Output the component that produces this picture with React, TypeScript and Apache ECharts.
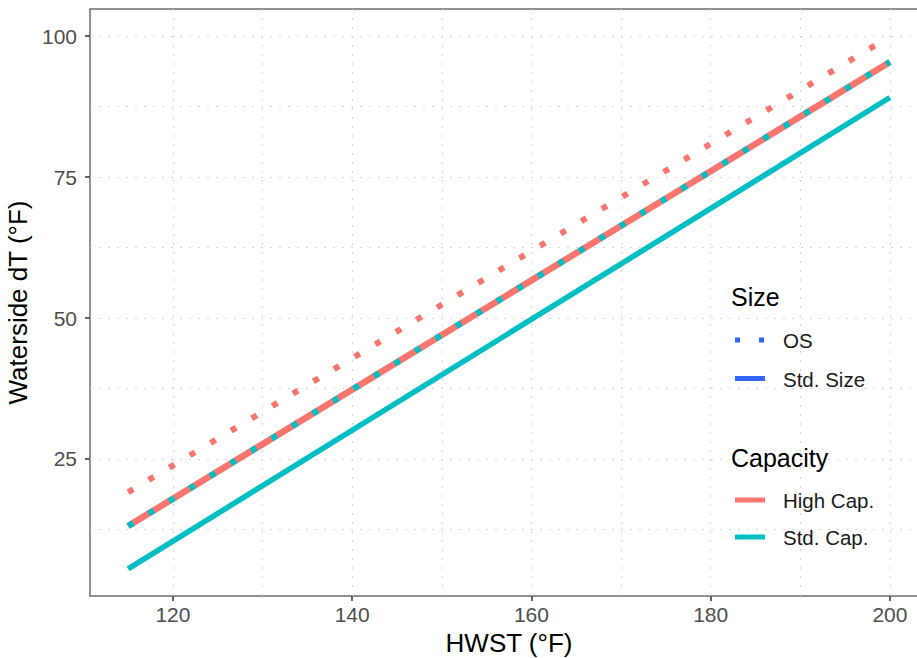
import React, { useEffect, useRef } from "react";
import * as echarts from "echarts";

// Data
const HWST = [115, 200];
const HIGH_CAP_STD_SIZE = [13.1, 95.4];
const HIGH_CAP_OS = [19.1, 99.9];
const STD_CAP_STD_SIZE = [5.5, 89.1];
const STD_CAP_OS = [13.1, 95.4];

const X_MAJOR = [120, 140, 160, 180, 200];
const X_MINOR = [130, 150, 170, 190];
const Y_MAJOR = [25, 50, 75, 100];
const Y_MINOR = [12.5, 37.5, 62.5, 87.5];

const SIZE_LEGEND = ["OS", "Std. Size"];
const CAP_LEGEND = ["High Cap.", "Std. Cap."];

const RED = "#F8766D";
const TEAL = "#00BFC4";
const BLUE = "#3366FF";
const FONT = "Liberation Sans, Arial, sans-serif";

const pairs = (xs: number[], ys: number[]) => xs.map((x, i) => [x, ys[i]]);

export default function App() {
  const ref = useRef<HTMLDivElement>(null);
  useEffect(() => {
    if (!ref.current) return;
    const chart = echarts.init(ref.current, null, { renderer: "svg" });
    const gridLine = { show: true, lineStyle: { color: "#d4d4d4", width: 1, type: [2, 7] as any } };
    const hiddenAxisCommon = {
      axisLine: { show: false },
      axisLabel: { show: false },
    };
    chart.setOption({
      animation: false,
      backgroundColor: "#ffffff",
      grid: {
        left: 90,
        top: 9,
        width: 838,
        height: 587,
        outerBoundsMode: "none",
        containLabel: false,
        show: true,
        borderColor: "#6e6e6e",
        borderWidth: 1.5,
        backgroundColor: "transparent",
      },
      xAxis: [
        {
          type: "value",
          min: 110.75,
          max: 204.25,
          position: "bottom",
          axisLine: { show: false },
          axisTick: { show: true, customValues: X_MAJOR, length: 5, lineStyle: { color: "#333333", width: 1.5 } },
          axisLabel: { customValues: X_MAJOR, fontSize: 21, color: "#4D4D4D", fontFamily: FONT, margin: 8 },
          splitLine: gridLine,
          name: "HWST (°F)",
          nameLocation: "middle",
          nameGap: 32,
          nameTextStyle: { fontSize: 26, color: "#000000", fontFamily: FONT },
        },
        {
          type: "value",
          min: 110.75,
          max: 204.25,
          position: "top",
          ...hiddenAxisCommon,
          axisTick: { show: false, customValues: X_MINOR },
          axisLabel: { show: false, customValues: X_MINOR },
          splitLine: gridLine,
        },
      ],
      yAxis: [
        {
          type: "value",
          min: 0.7,
          max: 104.8,
          position: "left",
          axisLine: { show: false },
          axisTick: { show: true, customValues: Y_MAJOR, length: 5, lineStyle: { color: "#333333", width: 1.5 } },
          axisLabel: { customValues: Y_MAJOR, fontSize: 21, color: "#4D4D4D", fontFamily: FONT, margin: 13 },
          splitLine: gridLine,
          name: "Waterside dT (°F)",
          nameLocation: "middle",
          nameRotate: 90,
          nameGap: 53,
          nameTextStyle: { fontSize: 26, color: "#000000", fontFamily: FONT },
        },
        {
          type: "value",
          min: 0.7,
          max: 104.8,
          position: "right",
          ...hiddenAxisCommon,
          axisTick: { show: false, customValues: Y_MINOR },
          axisLabel: { show: false, customValues: Y_MINOR },
          splitLine: gridLine,
        },
      ],
      series: [
        {
          name: "High Cap. / OS",
          type: "line",
          data: pairs(HWST, HIGH_CAP_OS),
          showSymbol: false,
          lineStyle: { color: RED, width: 6, type: [6, 18] as any, cap: "butt" },
          z: 3,
        },
        {
          name: "Std. Cap. / Std. Size",
          type: "line",
          data: pairs(HWST, STD_CAP_STD_SIZE),
          showSymbol: false,
          lineStyle: { color: TEAL, width: 5.5 },
          z: 3,
        },
        {
          name: "High Cap. / Std. Size",
          type: "line",
          data: pairs(HWST, HIGH_CAP_STD_SIZE),
          showSymbol: false,
          lineStyle: { color: RED, width: 6.5 },
          z: 4,
        },
        {
          name: "Std. Cap. / OS",
          type: "line",
          data: pairs(HWST, STD_CAP_OS),
          showSymbol: false,
          lineStyle: { color: TEAL, width: 6, type: [6, 18] as any, cap: "butt" },
          z: 5,
        },
      ],
      graphic: [
        { type: "text", x: 731, y: 297, style: { text: "Size", fontSize: 25, fontFamily: FONT, fill: "#000", verticalAlign: "middle" }, z: 11 },
        { type: "line", shape: { x1: 735, y1: 340, x2: 766, y2: 340 }, style: { stroke: BLUE, lineWidth: 5, lineDash: [5, 19] }, z: 11 },
        { type: "text", x: 783, y: 340, style: { text: SIZE_LEGEND[0], fontSize: 20.5, fontFamily: FONT, fill: "#1a1a1a", verticalAlign: "middle" }, z: 11 },
        { type: "line", shape: { x1: 735, y1: 378.5, x2: 765, y2: 378.5 }, style: { stroke: BLUE, lineWidth: 5 }, z: 11 },
        { type: "text", x: 783, y: 379, style: { text: SIZE_LEGEND[1], fontSize: 20.5, fontFamily: FONT, fill: "#1a1a1a", verticalAlign: "middle" }, z: 11 },
        { type: "text", x: 731, y: 458, style: { text: "Capacity", fontSize: 25, fontFamily: FONT, fill: "#000", verticalAlign: "middle" }, z: 11 },
        { type: "line", shape: { x1: 735, y1: 500, x2: 765, y2: 500 }, style: { stroke: RED, lineWidth: 5 }, z: 11 },
        { type: "text", x: 783, y: 500, style: { text: CAP_LEGEND[0], fontSize: 20.5, fontFamily: FONT, fill: "#1a1a1a", verticalAlign: "middle" }, z: 11 },
        { type: "line", shape: { x1: 735, y1: 537, x2: 765, y2: 537 }, style: { stroke: TEAL, lineWidth: 5 }, z: 11 },
        { type: "text", x: 783, y: 537, style: { text: CAP_LEGEND[1], fontSize: 20.5, fontFamily: FONT, fill: "#1a1a1a", verticalAlign: "middle" }, z: 11 },
      ],
    });
    return () => chart.dispose();
  }, []);
  return (
    <div
      ref={ref}
      style={{ position: "fixed", left: 0, top: 0, width: 917, height: 658, background: "#fff" }}
    />
  );
}
